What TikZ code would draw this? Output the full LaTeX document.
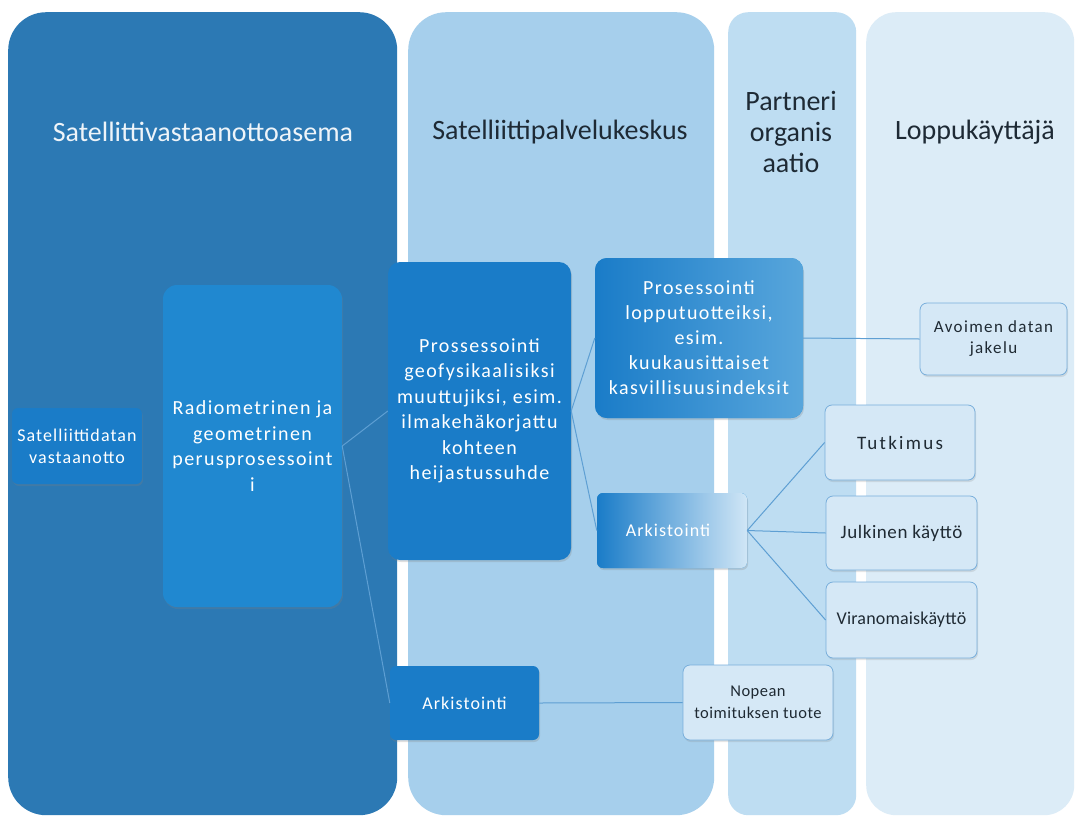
\documentclass[tikz,border=0pt]{standalone}
\usepackage{fontspec}
\setmainfont{Carlito}
\newfontfamily\nodefont[LetterSpace=7]{Carlito}
\newfontfamily\smallfont[LetterSpace=6]{Carlito}
\newfontfamily\lightfont[LetterSpace=8]{Carlito}
\newfontfamily\widefont[LetterSpace=12]{Carlito}
\newfontfamily\tightfont[LetterSpace=3]{Carlito}
\newfontfamily\plainfont[LetterSpace=1]{Carlito}
\usetikzlibrary{shadows}
\definecolor{laneA}{HTML}{2C79B4}
\definecolor{laneB}{HTML}{A6CFEC}
\definecolor{laneC}{HTML}{BEDDF2}
\definecolor{laneD}{HTML}{DCECF7}
\definecolor{boxblue}{HTML}{2088D0}
\definecolor{boxdark}{HTML}{1A7CC8}
\definecolor{boxfaint}{HTML}{D0E6F6}
\definecolor{lightfill}{HTML}{D5E8F6}
\definecolor{lightedge}{HTML}{78AEDB}
\definecolor{linkblue}{HTML}{5E9FD3}
\definecolor{headdark}{HTML}{1E2A35}
\definecolor{textdark}{HTML}{1F2A33}
\tikzset{
  lane/.style={rectangle, rounded corners=38pt, anchor=north west, inner sep=0pt},
  header/.style={font=\fontsize{28}{31}\selectfont, align=center, text=headdark},
  bluebox/.style={rectangle, rounded corners=9pt, fill=boxblue, text=white, align=center,
    inner sep=2pt, font=\nodefont\fontsize{20}{25.5}\selectfont,
    drop shadow={opacity=0.25, shadow xshift=1pt, shadow yshift=-2pt}},
  smallblue/.style={bluebox, font=\smallfont\fontsize{18}{22}\selectfont},
  lightbox/.style={rectangle, rounded corners=7pt, fill=lightfill, draw=lightedge, line width=0.8pt,
    text=textdark, align=center, inner sep=2pt, font=\lightfont\fontsize{17}{21}\selectfont,
    drop shadow={opacity=0.2, shadow xshift=1pt, shadow yshift=-2pt}},
  link/.style={draw=linkblue, line width=1pt}
}
\begin{document}
\begin{tikzpicture}[x=1pt, y=-1pt]
\useasboundingbox (0,0) rectangle (1076,820);
\fill[white] (0,0) rectangle (1076,820);
% lanes
\node[lane, fill=laneA, minimum width=389pt, minimum height=803pt] (laneA) at (8,12) {};
\node[lane, fill=laneB, minimum width=306pt, minimum height=803pt] (laneB) at (408,12) {};
\node[lane, rounded corners=20pt, fill=laneC, minimum width=128pt, minimum height=803pt] (laneC) at (728,12) {};
\node[lane, rounded corners=30pt, fill=laneD, minimum width=208pt, minimum height=803pt] (laneD) at (866,12) {};
% headers
\node[header, text=white!92!laneA] (hA) at (203,132) {Satellittivastaanottoasema};
\node[header] (hB) at (560,132) {Satelliittipalvelukeskus};
\node[header] (hC) at (791,132) {Partneri\\organis\\aatio};
\node[header] (hD) at (975,132) {Loppukäyttäjä};
% nodes
\node[smallblue, fill=boxdark, minimum width=130pt, minimum height=76pt, rounded corners=6pt] (sat) at (77,446) {Satelliittidatan\\vastaanotto};
\node[bluebox, minimum width=179pt, minimum height=322pt, rounded corners=14pt] (rad) at (252.5,446) {Radiometrinen ja\\geometrinen\\perusprosessoint\\i};
\node[bluebox, fill=boxdark, minimum width=183pt, minimum height=298pt, rounded corners=12pt] (geo) at (479.5,411) {Prossessointi\\geofysikaalisiksi\\muuttujiksi, esim.\\ilmakehäkorjattu\\kohteen\\heijastussuhde};
\node[bluebox, left color=boxdark, right color=boxblue!75!white, minimum width=208pt, minimum height=160pt, rounded corners=12pt, font=\nodefont\fontsize{20}{25}\selectfont] (lop) at (699,338) {Prosessointi\\lopputuotteiksi,\\esim.\\kuukausittaiset\\kasvillisuusindeksit};
\node[smallblue, left color=boxdark, middle color=boxblue!90!white, right color=boxfaint, minimum width=150pt, minimum height=75pt, rounded corners=6pt] (ark1) at (672,530.5) {\hspace*{-8pt}Arkistointi};
\node[smallblue, fill=boxdark, minimum width=149pt, minimum height=74pt, rounded corners=6pt] (ark2) at (464.5,703) {Arkistointi};
\node[lightbox, minimum width=147pt, minimum height=72pt] (avo) at (993.5,339) {Avoimen datan\\jakelu};
\node[lightbox, minimum width=150pt, minimum height=75pt, font=\widefont\fontsize{19}{21}\selectfont] (tut) at (900,442.5) {Tutkimus};
\node[lightbox, minimum width=151pt, minimum height=74pt, font=\tightfont\fontsize{19}{21}\selectfont] (jul) at (901.5,533) {Julkinen käyttö};
\node[lightbox, minimum width=151pt, minimum height=76pt, font=\plainfont\fontsize{18}{21}\selectfont] (vir) at (901.5,620) {Viranomaiskäyttö};
\node[lightbox, minimum width=150pt, minimum height=75pt, font=\tightfont\fontsize{16.5}{22}\selectfont] (nop) at (758,702.5) {Nopean\\toimituksen tuote};
% connectors
\draw[link] (rad.east) -- (geo.west);
\draw[link] (rad.east) -- (ark2.west);
\draw[link] (geo.east) -- (lop.west);
\draw[link] (geo.east) -- (ark1.west);
\draw[link] (lop.east) -- (avo.west);
\draw[link] (ark1.east) -- (tut.west);
\draw[link] (ark1.east) -- (jul.west);
\draw[link] (ark1.east) -- (vir.west);
\draw[link] (ark2.east) -- (nop.west);
\end{tikzpicture}
\end{document}
